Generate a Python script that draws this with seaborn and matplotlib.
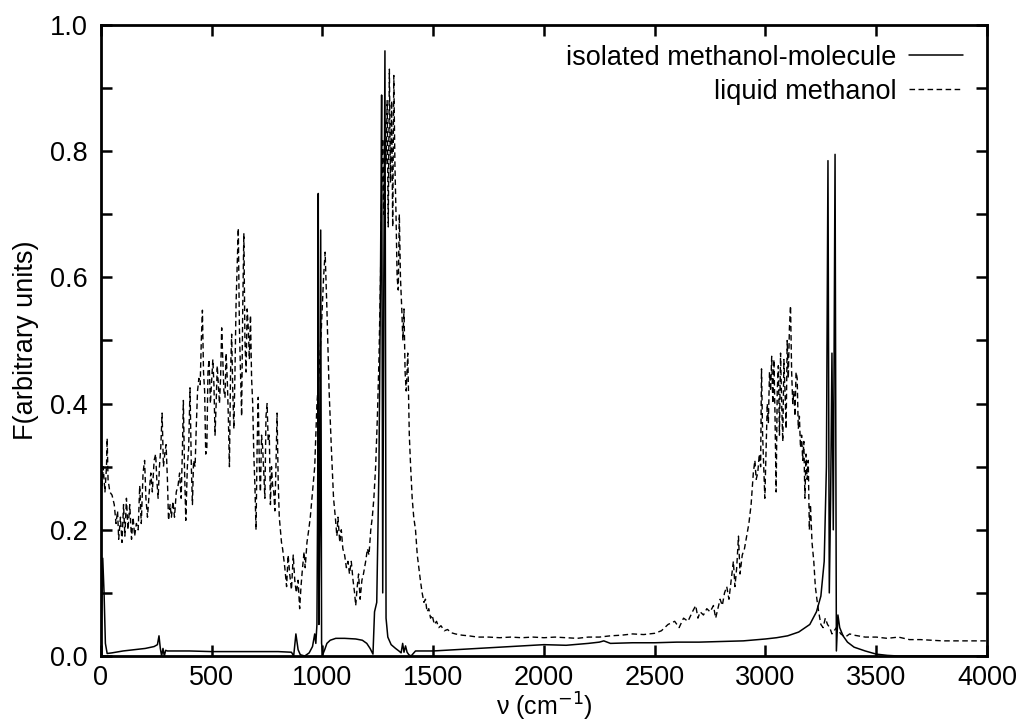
import numpy as np
import pandas as pd
import matplotlib
matplotlib.use("Agg")
import matplotlib.pyplot as plt
import matplotlib.lines as mlines
from matplotlib.ticker import MultipleLocator
import seaborn as sns

# Liquid methanol spectrum (dashed)
nu_liquid = [0, 5, 10, 18, 25, 28, 32, 40, 50, 60, 68, 75, 80, 88, 95, 102, 108, 115, 122, 130,
             138, 145, 152, 160, 168, 175, 182, 190, 197, 203, 210, 218, 225, 232, 240, 247, 252, 258, 264, 270,
             276, 282, 288, 294, 300, 305, 312, 318, 325, 332, 340, 348, 355, 362, 368, 372, 377, 383, 390, 396,
             402, 408, 413, 418, 425, 430, 436, 442, 448, 453, 458, 463, 468, 473, 478, 483, 488, 494, 500, 505,
             510, 515, 520, 525, 530, 535, 540, 545, 550, 555, 560, 565, 570, 575, 580, 585, 590, 595, 600, 605,
             610, 615, 620, 625, 630, 635, 640, 645, 650, 655, 660, 665, 670, 675, 680, 685, 690, 695, 700, 705,
             710, 715, 720, 725, 730, 735, 740, 745, 750, 755, 760, 765, 770, 775, 780, 785, 790, 795, 800, 805,
             810, 815, 820, 830, 838, 845, 852, 860, 868, 875, 882, 890, 897, 903, 910, 917, 922, 930, 938, 945,
             955, 965, 975, 985, 995, 1005, 1012, 1020, 1030, 1040, 1050, 1058, 1065, 1070, 1078, 1085, 1092, 1100, 1108, 1115,
             1122, 1130, 1138, 1145, 1150, 1157, 1163, 1170, 1178, 1185, 1195, 1203, 1210, 1218, 1225, 1232, 1240, 1248, 1255, 1262,
             1268, 1272, 1277, 1282, 1287, 1292, 1297, 1302, 1307, 1312, 1317, 1322, 1327, 1332, 1337, 1342, 1347, 1352, 1358, 1363,
             1368, 1373, 1378, 1385, 1392, 1398, 1405, 1412, 1420, 1428, 1435, 1442, 1450, 1458, 1465, 1472, 1480, 1488, 1495, 1505,
             1515, 1525, 1535, 1550, 1565, 1580, 1600, 1630, 1660, 1700, 1750, 1800, 1850, 1900, 1950, 2000, 2050, 2100, 2150, 2200,
             2250, 2300, 2350, 2400, 2450, 2500, 2530, 2560, 2590, 2610, 2630, 2650, 2670, 2685, 2695, 2705, 2720, 2735, 2750, 2765,
             2775, 2785, 2795, 2805, 2815, 2825, 2835, 2845, 2855, 2862, 2870, 2878, 2885, 2895, 2905, 2915, 2925, 2935, 2945, 2952,
             2958, 2965, 2972, 2978, 2982, 2987, 2992, 2997, 3002, 3008, 3013, 3018, 3023, 3028, 3033, 3038, 3043, 3048, 3053, 3058,
             3063, 3068, 3073, 3078, 3083, 3088, 3093, 3098, 3103, 3108, 3113, 3118, 3123, 3128, 3133, 3138, 3143, 3148, 3153, 3158,
             3163, 3168, 3173, 3178, 3183, 3188, 3193, 3198, 3203, 3210, 3218, 3225, 3232, 3240, 3250, 3260, 3270, 3280, 3290, 3300,
             3320, 3340, 3360, 3380, 3400, 3450, 3500, 3550, 3600, 3650, 3700, 3800, 3900, 4000]
f_liquid = [0.30, 0.27, 0.30, 0.26, 0.30, 0.345, 0.28, 0.26, 0.255, 0.24, 0.21, 0.23, 0.185, 0.22, 0.18, 0.24, 0.19, 0.25, 0.20, 0.24,
            0.185, 0.22, 0.19, 0.21, 0.20, 0.27, 0.21, 0.29, 0.31, 0.25, 0.22, 0.26, 0.29, 0.26, 0.31, 0.32, 0.28, 0.25, 0.30, 0.33,
            0.385, 0.30, 0.32, 0.335, 0.28, 0.215, 0.24, 0.22, 0.245, 0.22, 0.26, 0.27, 0.29, 0.25, 0.33, 0.405, 0.30, 0.215, 0.30, 0.33,
            0.425, 0.30, 0.24, 0.31, 0.30, 0.36, 0.42, 0.44, 0.43, 0.50, 0.548, 0.45, 0.42, 0.32, 0.33, 0.45, 0.47, 0.40, 0.44, 0.47,
            0.43, 0.35, 0.40, 0.46, 0.43, 0.40, 0.44, 0.52, 0.47, 0.42, 0.41, 0.48, 0.44, 0.38, 0.30, 0.45, 0.51, 0.42, 0.36, 0.45,
            0.56, 0.62, 0.678, 0.52, 0.45, 0.38, 0.55, 0.67, 0.50, 0.45, 0.55, 0.52, 0.47, 0.54, 0.44, 0.40, 0.32, 0.27, 0.20, 0.33,
            0.41, 0.30, 0.26, 0.35, 0.33, 0.29, 0.25, 0.38, 0.40, 0.34, 0.35, 0.24, 0.30, 0.27, 0.26, 0.23, 0.30, 0.385, 0.28, 0.22,
            0.20, 0.18, 0.17, 0.14, 0.11, 0.16, 0.13, 0.105, 0.16, 0.12, 0.10, 0.12, 0.075, 0.11, 0.14, 0.165, 0.14, 0.18, 0.20, 0.22,
            0.26, 0.30, 0.40, 0.45, 0.52, 0.60, 0.64, 0.55, 0.42, 0.33, 0.25, 0.22, 0.19, 0.22, 0.18, 0.20, 0.17, 0.16, 0.14, 0.15,
            0.13, 0.15, 0.12, 0.10, 0.08, 0.11, 0.13, 0.09, 0.12, 0.13, 0.15, 0.17, 0.16, 0.20, 0.22, 0.25, 0.30, 0.38, 0.47, 0.60,
            0.75, 0.82, 0.70, 0.85, 0.78, 0.88, 0.68, 0.93, 0.75, 0.88, 0.68, 0.92, 0.78, 0.70, 0.60, 0.58, 0.70, 0.60, 0.55, 0.50,
            0.55, 0.45, 0.42, 0.48, 0.35, 0.30, 0.25, 0.22, 0.20, 0.16, 0.14, 0.12, 0.10, 0.085, 0.09, 0.07, 0.075, 0.06, 0.065, 0.05,
            0.055, 0.045, 0.048, 0.040, 0.042, 0.037, 0.035, 0.033, 0.032, 0.030, 0.030, 0.029, 0.030, 0.029, 0.030, 0.029, 0.030, 0.029, 0.028, 0.030,
            0.030, 0.032, 0.033, 0.035, 0.034, 0.036, 0.040, 0.050, 0.055, 0.045, 0.060, 0.055, 0.070, 0.080, 0.060, 0.070, 0.065, 0.075, 0.070, 0.080,
            0.060, 0.075, 0.090, 0.080, 0.10, 0.11, 0.09, 0.12, 0.15, 0.11, 0.14, 0.19, 0.13, 0.16, 0.17, 0.19, 0.21, 0.24, 0.29, 0.31,
            0.28, 0.29, 0.32, 0.30, 0.455, 0.35, 0.30, 0.25, 0.32, 0.40, 0.37, 0.45, 0.42, 0.475, 0.40, 0.47, 0.38, 0.26, 0.42, 0.46,
            0.35, 0.48, 0.40, 0.34, 0.47, 0.42, 0.36, 0.50, 0.44, 0.52, 0.555, 0.45, 0.40, 0.42, 0.38, 0.45, 0.44, 0.36, 0.38, 0.33,
            0.35, 0.31, 0.34, 0.25, 0.32, 0.28, 0.31, 0.20, 0.24, 0.18, 0.15, 0.11, 0.09, 0.07, 0.05, 0.045, 0.06, 0.05, 0.045, 0.035,
            0.045, 0.035, 0.030, 0.035, 0.033, 0.030, 0.030, 0.028, 0.030, 0.026, 0.026, 0.024, 0.024, 0.024]

# Isolated methanol molecule spectrum (solid)
nu_isolated = [0, 8, 14, 20, 28, 50, 100, 150, 200, 240, 255, 262, 268, 274, 280, 286, 292, 300, 400, 500,
               600, 700, 800, 860, 870, 880, 890, 900, 920, 940, 955, 965, 970, 975, 979, 981, 984, 988, 992, 996,
               1002, 1010, 1020, 1035, 1060, 1100, 1150, 1180, 1200, 1215, 1228, 1235, 1245, 1255, 1262, 1267, 1272, 1277, 1282, 1287,
               1295, 1310, 1330, 1345, 1355, 1362, 1368, 1375, 1382, 1390, 1400, 1420, 1500, 1600, 1800, 2000, 2100, 2200, 2250, 2270,
               2300, 2400, 2500, 2600, 2700, 2800, 2900, 3000, 3050, 3100, 3150, 3200, 3230, 3250, 3265, 3275, 3282, 3288, 3294, 3300,
               3306, 3314, 3320, 3327, 3335, 3350, 3370, 3400, 3450, 3500, 3550, 3600, 3700, 4000]
f_isolated = [0.02, 0.155, 0.10, 0.02, 0.004, 0.005, 0.008, 0.010, 0.012, 0.015, 0.018, 0.032, 0.012, 0.000, 0.012, 0.000, 0.009, 0.008, 0.008, 0.007,
              0.007, 0.007, 0.007, 0.006, 0.000, 0.035, 0.010, 0.002, 0.000, 0.005, 0.015, 0.035, 0.020, 0.05, 0.30, 0.733, 0.05, 0.20, 0.675, 0.02,
              0.003, 0.010, 0.020, 0.025, 0.028, 0.028, 0.027, 0.025, 0.020, 0.012, 0.003, 0.070, 0.085, 0.30, 0.60, 0.889, 0.10, 0.60, 0.959, 0.06,
              0.030, 0.018, 0.012, 0.008, 0.005, 0.020, 0.006, 0.016, 0.006, 0.002, 0.000, 0.008, 0.008, 0.010, 0.014, 0.018, 0.017, 0.020, 0.022, 0.024,
              0.020, 0.021, 0.021, 0.022, 0.022, 0.023, 0.024, 0.027, 0.029, 0.032, 0.038, 0.050, 0.070, 0.095, 0.15, 0.30, 0.785, 0.10, 0.25, 0.48,
              0.20, 0.795, 0.008, 0.065, 0.045, 0.032, 0.022, 0.014, 0.008, 0.003, 0.001, 0.000, 0.000, 0.000]

liquid = pd.DataFrame({"nu": nu_liquid, "F": f_liquid})
isolated = pd.DataFrame({"nu": nu_isolated, "F": f_isolated})

sns.set_theme(style="ticks")
plt.rcParams["font.family"] = ["Liberation Sans", "DejaVu Sans"]
plt.rcParams["text.color"] = "black"
plt.rcParams["axes.labelcolor"] = "black"

fs = 19.5
fig, ax = plt.subplots(figsize=(10.26, 7.26), dpi=100)
fig.subplots_adjust(left=0.0984, right=0.962, top=0.9656, bottom=0.0964)

sns.lineplot(data=liquid, x="nu", y="F", ax=ax, color="black", lw=1.0,
             linestyle=(0, (4, 2.5)), estimator=None, sort=False)
sns.lineplot(data=isolated, x="nu", y="F", ax=ax, color="black", lw=1.1,
             estimator=None, sort=False)

ax.set_xlim(0, 4000)
ax.set_ylim(0, 1.0)
ax.xaxis.set_major_locator(MultipleLocator(500))
ax.yaxis.set_major_locator(MultipleLocator(0.2))
ax.yaxis.set_minor_locator(MultipleLocator(0.1))
ax.yaxis.set_major_formatter(lambda v, p: f"{v:.1f}")
ax.tick_params(which="both", direction="in", top=True, right=True,
               length=8, width=1.8, color="black", labelsize=fs, labelcolor="black")
ax.tick_params(axis="y", pad=9.5)
ax.tick_params(axis="x", pad=6.5)
for s in ax.spines.values():
    s.set_linewidth(2.0)
    s.set_color("black")

ax.set_xlabel("ν (cm$^{-1}$)", fontsize=18, labelpad=0, color="black")
ax.set_ylabel("F(arbitrary units)", fontsize=fs, labelpad=8, color="black")

# gnuplot-style key: text first, line sample after
solid = mlines.Line2D([], [], color="black", lw=1.1, label="isolated methanol-molecule")
dashed = mlines.Line2D([], [], color="black", lw=1.0, linestyle=(0, (4, 2.5)), label="liquid methanol")
ax.legend(handles=[solid, dashed], loc="upper right", frameon=False, markerfirst=False,
          fontsize=fs, handlelength=2.0, handletextpad=0.45, labelspacing=0.3,
          borderpad=0, borderaxespad=0, bbox_to_anchor=(0.973, 0.969),
          labelcolor="black")

plt.savefig("out.png", dpi=100)
